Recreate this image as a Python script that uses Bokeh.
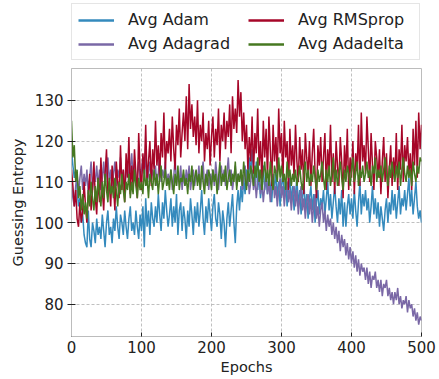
from bokeh.plotting import figure
from bokeh.layouts import column
from bokeh.models import Legend, LegendItem, Range1d, FixedTicker
from bokeh.embed import file_html
from bokeh.resources import INLINE

epochs = list(range(0, 501, 2))

adam = [
    118, 114, 111, 113, 108, 104, 106, 100, 102, 97,
    95, 94, 103, 96, 94, 100, 98, 95, 101, 97,
    99, 96, 102, 98, 94, 100, 103, 97, 99, 95,
    101, 98, 104, 99, 96, 102, 100, 97, 103, 99,
    96, 101, 104, 98, 100, 97, 103, 99, 96, 102,
    98, 104, 94, 106, 99, 103, 97, 105, 101, 99,
    104, 100, 107, 102, 98, 105, 101, 108, 103, 99,
    102, 106, 99, 104, 100, 107, 97, 103, 105, 98,
    104, 101, 96, 103, 99, 106, 102, 97, 104, 100,
    105, 99, 103, 108, 101, 97, 104, 100, 106, 102,
    98, 104, 107, 101, 99, 105, 102, 96, 103, 100,
    94, 101, 105, 99, 103, 107, 100, 95, 104, 108,
    103, 109, 105, 111, 107, 113, 109, 116, 112, 118,
    113, 110, 115, 108, 112, 106, 110, 114, 108, 111,
    107, 112, 109, 105, 111, 108, 113, 106, 110, 104,
    109, 112, 106, 110, 104, 108, 111, 105, 109, 103,
    107, 111, 104, 108, 102, 106, 110, 103, 107, 101,
    106, 109, 103, 107, 100, 105, 108, 102, 106, 104,
    108, 102, 106, 110, 103, 107, 101, 105, 109, 104,
    100, 106, 102, 108, 99, 105, 99, 104, 107, 102,
    106, 101, 108, 103, 99, 105, 110, 102, 107, 104,
    108, 103, 106, 100, 104, 109, 102, 106, 101, 105,
    99, 104, 101, 98, 103, 106, 100, 105, 102, 108,
    103, 107, 101, 105, 109, 102, 106, 104, 108, 103,
    107, 111, 104, 108, 102, 106, 110, 104, 101, 103,
    100,
]

adagrad = [
    110, 106, 104, 109, 112, 107, 111, 114, 108, 112,
    109, 113, 107, 111, 115, 108, 112, 110, 114, 109,
    113, 108, 111, 115, 109, 112, 116, 110, 113, 108,
    112, 115, 109, 113, 111, 116, 110, 113, 108, 112,
    115, 110, 113, 117, 111, 114, 109, 112, 115, 110,
    113, 116, 111, 118, 109, 112, 115, 110, 113, 111,
    114, 109, 112, 117, 110, 113, 111, 115, 109, 112,
    110, 113, 108, 111, 116, 109, 112, 110, 114, 108,
    112, 109, 113, 110, 114, 108, 111, 113, 109, 112,
    110, 114, 108, 112, 115, 109, 111, 113, 108, 112,
    110, 113, 109, 115, 111, 108, 112, 114, 110, 113,
    109, 112, 116, 110, 113, 108, 111, 114, 109, 112,
    110, 113, 108, 111, 114, 109, 112, 107, 110, 113,
    108, 111, 106, 110, 113, 107, 110, 105, 109, 112,
    107, 110, 105, 109, 112, 106, 109, 104, 108, 111,
    106, 109, 104, 108, 110, 105, 108, 103, 107, 109,
    104, 108, 102, 106, 109, 103, 106, 101, 105, 107,
    102, 106, 100, 104, 107, 101, 104, 99, 103, 105,
    100, 103, 98, 102, 99, 101, 97, 100, 96, 99,
    95, 98, 93, 97, 94, 96, 92, 95, 91, 94,
    90, 93, 89, 92, 88, 91, 87, 90, 88, 89,
    86, 89, 85, 88, 84, 87, 86, 88, 84, 86,
    83, 86, 82, 85, 84, 86, 82, 84, 81, 83,
    80, 83, 81, 84, 80, 82, 79, 81, 80, 82,
    78, 81, 79, 80, 77, 79, 76, 78, 75, 77,
    76,
]

rmsprop = [
    113, 109, 104, 108, 101, 99, 105, 100, 103, 110,
    104, 100, 107, 112, 103, 108, 115, 106, 102, 111,
    105, 116, 108, 103, 112, 118, 107, 110, 104, 114,
    109, 103, 115, 110, 106, 119, 108, 113, 105, 117,
    111, 121, 107, 114, 109, 118, 112, 106, 122, 113,
    108, 117, 112, 124, 110, 115, 120, 109, 118, 113,
    125, 114, 119, 111, 122, 116, 127, 113, 120, 117,
    123, 115, 126, 118, 113, 124, 119, 128, 116, 122,
    127, 120, 131, 118, 134, 123, 129, 121, 126, 119,
    130, 117, 124, 120, 127, 115, 122, 118, 125, 114,
    121, 126, 116, 123, 119, 128, 115, 124, 120, 127,
    118, 125, 121, 129, 117, 131, 123, 128, 122, 135,
    126, 132, 120, 127, 118, 124, 113, 121, 115, 126,
    112, 122, 117, 128, 114, 120, 110, 125, 116, 123,
    111, 126, 118, 109, 124, 115, 121, 112, 128, 117,
    122, 110, 125, 116, 120, 108, 123, 114, 119, 111,
    124, 115, 110, 121, 113, 118, 107, 122, 116, 112,
    120, 109, 117, 123, 112, 106, 119, 114, 121, 110,
    116, 122, 108, 118, 113, 124, 110, 117, 107, 120,
    114, 109, 121, 115, 106, 119, 112, 123, 108, 116,
    111, 120, 107, 117, 113, 124, 109, 127, 115, 119,
    112, 126, 118, 110, 122, 114, 108, 120, 116, 111,
    118, 107, 115, 121, 110, 117, 106, 113, 119, 109,
    116, 111, 122, 108, 118, 113, 124, 110, 119, 115,
    121, 112, 117, 108, 123, 114, 125, 111, 127, 118,
    124,
]

adadelta = [
    125, 116, 119, 110, 113, 106, 109, 103, 107, 102,
    105, 101, 108, 104, 110, 106, 103, 109, 105, 111,
    107, 104, 110, 106, 112, 108, 105, 111, 107, 109,
    106, 111, 108, 104, 110, 107, 112, 108, 105, 110,
    108, 112, 106, 110, 107, 113, 109, 106, 111, 108,
    110, 107, 113, 109, 111, 106, 112, 110, 108, 113,
    109, 112, 107, 111, 114, 108, 110, 113, 109, 111,
    108, 113, 110, 107, 112, 109, 114, 108, 111, 110,
    113, 109, 111, 107, 112, 110, 114, 108, 111, 113,
    109, 112, 108, 114, 110, 107, 112, 109, 113, 111,
    108, 113, 110, 112, 107, 111, 115, 109, 112, 110,
    114, 108, 111, 113, 109, 112, 110, 115, 108, 112,
    110, 113, 109, 115, 111, 108, 113, 110, 114, 112,
    109, 114, 111, 116, 110, 113, 108, 112, 115, 110,
    113, 109, 115, 111, 108, 114, 112, 110, 116, 111,
    114, 110, 112, 108, 115, 111, 113, 109, 112, 110,
    113, 109, 111, 114, 110, 108, 112, 115, 110, 113,
    109, 112, 110, 114, 111, 108, 113, 110, 112, 115,
    111, 108, 113, 110, 114, 109, 112, 116, 110, 113,
    109, 112, 115, 111, 108, 113, 110, 114, 112, 109,
    113, 116, 110, 112, 115, 109, 113, 111, 114, 110,
    112, 115, 111, 113, 109, 114, 112, 116, 110, 113,
    111, 114, 110, 113, 116, 112, 109, 114, 111, 115,
    112, 110, 114, 111, 115, 109, 113, 116, 112, 110,
    114, 111, 113, 109, 115, 112, 110, 114, 112, 116,
    115,
]

series_names = ["Avg Adam", "Avg Adagrad", "Avg RMSprop", "Avg Adadelta"]
series_values = [adam, adagrad, rmsprop, adadelta]
series_colors = ["#348ABD", "#7A68A6", "#A60628", "#467821"]
x_ticks = [0, 100, 200, 300, 400, 500]
y_ticks = [80, 90, 100, 110, 120, 130]

FONT = "DejaVu Sans"
W = 438
H = 378
LEG_H = 68
BL, BR = 71, 17

# ---- main plot ----
p = figure(width=W, height=H - LEG_H, output_backend="svg", toolbar_location=None,
           x_range=Range1d(0, 500), y_range=Range1d(72.1, 137.8),
           min_border_left=BL, min_border_right=BR, min_border_top=0,
           min_border_bottom=H - 336)
p.background_fill_color = "white"
p.border_fill_color = "white"
p.outline_line_color = "#bcbcbc"
p.outline_line_width = 1

for name, vals, col in zip(series_names, series_values, series_colors):
    p.line(epochs, vals, line_color=col, line_width=1.5)

p.xaxis.ticker = FixedTicker(ticks=x_ticks)
p.yaxis.ticker = FixedTicker(ticks=y_ticks)
p.xaxis.axis_label = "Epochs"
p.yaxis.axis_label = "Guessing Entropy"
for ax in (p.xaxis, p.yaxis):
    ax.axis_line_color = "#bcbcbc"
    ax.major_tick_line_color = "#222222"
    ax.minor_tick_line_color = None
    ax.major_label_text_font = FONT
    ax.major_label_text_font_size = "15px"
    ax.major_label_text_color = "#222222"
    ax.axis_label_text_font = FONT
    ax.axis_label_text_font_size = "14.5px"
    ax.axis_label_text_font_style = "normal"
    ax.axis_label_text_color = "#222222"
p.xaxis.major_tick_in = 4
p.xaxis.major_tick_out = 0
p.xaxis.major_label_standoff = 4
p.xaxis.axis_label_standoff = 3
p.yaxis.major_tick_in = 4
p.yaxis.major_tick_out = 4
p.yaxis.major_label_standoff = 4
p.yaxis.axis_label_standoff = 6

p.grid.grid_line_color = "#b0b0b0"
p.grid.grid_line_dash = "3 2"
p.grid.grid_line_width = 0.8

# ---- legend strip above the plot ----
lg = figure(width=W, height=LEG_H, output_backend="svg", toolbar_location=None,
            x_range=Range1d(0, 500), y_range=Range1d(0, 1),
            x_axis_type=None, y_axis_type=None,
            min_border_left=BL, min_border_right=BR, min_border_top=0,
            min_border_bottom=0)
lg.outline_line_color = None
lg.grid.visible = False
lg.background_fill_color = "white"
lg.border_fill_color = "white"
leg_renderers = []
for name, vals, col in zip(series_names, series_values, series_colors):
    leg_renderers.append(lg.line(epochs, vals, line_color=col, line_width=2.4))

items = [LegendItem(label=n, renderers=[r]) for n, r in zip(series_names, leg_renderers)]
legend = Legend(items=items, location=(0, 8), ncols=2,
                label_text_font=FONT, label_text_font_size="16px",
                label_text_color="#222222",
                glyph_width=36, glyph_height=14, label_height=14,
                label_width=115, label_standoff=14, spacing=5, padding=6,
                margin=0, border_line_color="#cccccc", border_line_width=1,
                background_fill_color="white", background_fill_alpha=1.0)
lg.add_layout(legend, "center")

layout = column(lg, p, spacing=0)
open("out.html", "w").write(file_html(layout, INLINE))
